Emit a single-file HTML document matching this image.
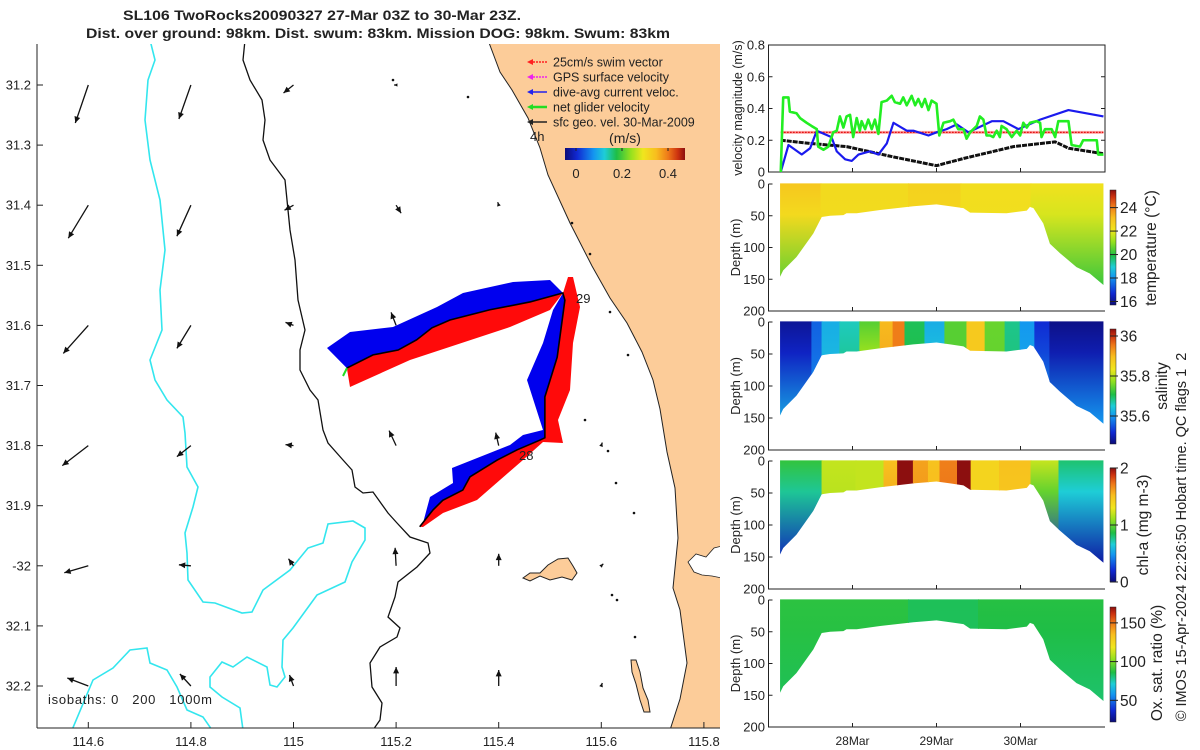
<!DOCTYPE html>
<html><head><meta charset="utf-8"><title>SL106 glider plot</title>
<style>
html,body{margin:0;padding:0;background:#fff;}
svg{display:block;font-family:"Liberation Sans","DejaVu Sans",sans-serif;}
text{fill:#222;}
</style></head>
<body>
<svg id="root" width="1200" height="750" viewBox="0 0 1200 750" xmlns="http://www.w3.org/2000/svg">
<defs>
  <clipPath id="mapclip"><rect x="37" y="44" width="683" height="684"/></clipPath>
  <linearGradient id="legcb" x1="0" x2="1" y1="0" y2="0"></linearGradient>
  <linearGradient id="vcb" x1="0" x2="0" y1="1" y2="0"></linearGradient>
</defs>
<text x="123" y="20" font-size="13.5" font-weight="bold" textLength="398" lengthAdjust="spacingAndGlyphs">SL106 TwoRocks20090327 27-Mar 03Z to 30-Mar 23Z.</text>
<text x="86" y="38" font-size="13.5" font-weight="bold" textLength="584" lengthAdjust="spacingAndGlyphs">Dist. over ground: 98km. Dist. swum: 83km. Mission DOG: 98km. Swum: 83km</text>

<g id="map">
  <g clip-path="url(#mapclip)" id="mapinner"></g>
  <g id="mapaxes"></g>
</g>
<g id="right"></g>
</svg>
<script>
const NS='http://www.w3.org/2000/svg';
const root=document.getElementById('root');
function mk(tag,attrs,parent,txt){const e=document.createElementNS(NS,tag);for(const k in attrs)e.setAttribute(k,attrs[k]);if(txt!==undefined)e.textContent=txt;(parent||root).appendChild(e);return e;}

/* ---------- map data ---------- */
const lonTicks=[114.6,114.8,115,115.2,115.4,115.6,115.8];
const lonTickLabels=['114.6','114.8','115','115.2','115.4','115.6','115.8'];
const latTicks=[31.2,31.3,31.4,31.5,31.6,31.7,31.8,31.9,32.0,32.1,32.2];
const latTickLabels=['31.2','31.3','31.4','31.5','31.6','31.7','31.8','31.9','-32','32.1','32.2'];
const arrowLon=[114.6,114.8,115,115.2, 114.6,114.8,115,115.2,115.4, 114.6,114.8,115,115.2, 114.6,114.8,115,115.2,115.4,115.6, 114.6,114.8,115,115.2,115.4,115.6, 114.6,114.8,115,115.2,115.4,115.6];
const arrowLat=[31.2,31.2,31.2,31.2, 31.4,31.4,31.4,31.4,31.4, 31.6,31.6,31.6,31.6, 31.8,31.8,31.8,31.8,31.8,31.8, 32.0,32.0,32.0,32.0,32.0,32.0, 32.2,32.2,32.2,32.2,32.2,32.2];
const arrowU=[-0.13,-0.12,-0.10,-0.02, -0.20,-0.14,-0.09,0.05,-0.01, -0.25,-0.14,-0.08,-0.05, -0.26,-0.14,-0.08,-0.07,-0.03,0.01, -0.24,-0.12,-0.05,-0.01,0,0.02, -0.21,-0.11,-0.04,0,0,0.01];
const arrowV=[-0.38,-0.34,-0.08,0, -0.33,-0.31,-0.05,-0.08,0.03, -0.28,-0.23,0.03,0.13, -0.20,-0.11,0.01,0.15,0.13,0.03, -0.07,0.01,0.07,0.18,0.12,0.02, 0.08,0.12,0.11,0.19,0.16,0.03];
const trackLon=[115.246,115.272,115.291,115.330,115.344,115.397,115.436,115.480,115.490,115.490,115.514,115.529,115.525,115.461,115.383,115.305,115.270,115.240,115.204,115.155,115.104];
const trackLat=[31.935,31.907,31.891,31.874,31.852,31.824,31.807,31.791,31.787,31.719,31.653,31.558,31.546,31.561,31.574,31.591,31.604,31.624,31.641,31.649,31.671];

function X(lon){return 88.3+(lon-114.6)*513;}
function Y(lat){return 85+(lat-31.2)*601;}

const mi=document.getElementById('mapinner');
const ma=document.getElementById('mapaxes');
const pts=a=>a.map(p=>p.join(',')).join(' ');
const land=[[488,40],[494,56],[500,72],[512,90],[528,118],[540,148],[548,175],[570,223],[592,266],[610,298],[627,323],[642,352],[653,380],[660,409],[667,452],[675,488],[678,538],[673,588],[680,610],[687,663],[680,699],[670,730],[730,730],[730,40]];
let e=mk('polygon',{points:pts(land),fill:'#fccc99',stroke:'#222','stroke-width':1},mi);

e=mk('polygon',{points:pts([[688,562],[696,554],[706,557],[714,548],[722,546],[722,578],[712,576],[702,575],[694,572]]),fill:'#fff',stroke:'#222','stroke-width':0.8},mi);

e=mk('polygon',{points:pts([[523,578],[530,573],[540,573],[548,565],[558,559],[568,558],[573,566],[577,573],[572,580],[562,577],[550,580],[540,576],[530,581]]),fill:'#fccc99',stroke:'#222','stroke-width':1},mi);

e=mk('polygon',{points:pts([[631,660],[636,660],[640,672],[643,688],[648,700],[650,712],[644,712],[640,700],[636,684],[632,672]]),fill:'#fccc99',stroke:'#222','stroke-width':1},mi);

const iso200=[[245,40],[243,60],[250,80],[262,100],[265,120],[263,140],[270,160],[285,180],[287,200],[290,230],[295,260],[298,300],[305,330],[300,350],[300,370],[310,390],[318,400],[323,430],[328,443],[343,460],[352,470],[355,487],[363,493],[373,492],[388,513],[397,523],[410,537],[428,543],[430,553],[417,567],[398,582],[395,597],[388,617],[400,628],[397,637],[380,647],[370,663],[372,687],[382,703],[380,720],[373,730]];
e=mk('polyline',{points:pts(iso200),fill:'none',stroke:'#111','stroke-width':1.3},mi);

const iso1000a=[[150,40],[155,60],[148,80],[145,120],[150,160],[160,200],[165,250],[160,290],[162,330],[150,360],[155,380],[167,400],[183,417],[185,433],[187,467],[198,487],[193,507],[185,533],[187,553],[188,580],[203,602],[215,603],[242,613],[252,612],[263,590],[290,570],[308,548],[323,543],[328,524],[353,521],[365,528],[365,540],[352,562],[345,582],[317,595],[293,628],[283,640],[282,667],[285,677],[277,687],[270,685],[267,667],[247,657],[233,667],[222,662],[210,677],[210,687],[222,697],[240,708],[243,730]];
e=mk('polyline',{points:pts(iso1000a),fill:'none',stroke:'#33e6ee','stroke-width':1.6},mi);

const iso1000b=[[72,730],[93,680],[113,668],[130,650],[147,648],[150,663],[167,670],[177,687],[187,710],[203,717],[212,730]];
e=mk('polyline',{points:pts(iso1000b),fill:'none',stroke:'#33e6ee','stroke-width':1.6},mi);

[[393,80],[468,97],[572,223],[590,254],[610,312],[628,355],[585,420],[608,451],[616,483],[634,513],[617,600],[612,595],[635,637]].forEach(p=>{const d=mk('circle',{cx:p[0],cy:p[1],r:1.3,fill:'#111'},mi);});
const arrowScale=100;
for(let i=0;i<arrowLon.length;i++){
  const x0=X(arrowLon[i]),y0=Y(arrowLat[i]);
  const x1=x0+arrowU[i]*arrowScale,y1=y0-arrowV[i]*arrowScale;
  const g=mk('g',{},mi);
  
  
  mk('line',{x1:x0,y1:y0,x2:x1,y2:y1,stroke:'#111','stroke-width':1.3},g);
  const ang=Math.atan2(y1-y0,x1-x0),L=Math.min(7,Math.hypot(x1-x0,y1-y0)*0.6+2.5);
  const a1=ang+2.7,a2=ang-2.7;
  mk('polygon',{points:`${x1},${y1} ${x1+L*Math.cos(a1)},${y1+L*Math.sin(a1)} ${x1+L*Math.cos(a2)},${y1+L*Math.sin(a2)}`,fill:'#111'},g);
}
const trackXY=trackLon.map((l,i)=>[X(l),Y(trackLat[i])]);
const blueOuter=[[327,348],[350,332],[393,327],[437,307],[463,293],[513,282],[550,280],[557,287],[563,293],[553,310],[543,343],[527,380],[543,430],[523,435],[510,445],[452,468],[453,483],[430,497],[423,523]];
const redOuter=[[350,387],[410,360],[510,327],[550,310],[563,293],[568,277],[573,277],[580,307],[573,343],[570,390],[558,420],[563,443],[543,442],[523,460],[477,500],[443,513],[423,527]];
e=mk('polygon',{points:pts(blueOuter.concat(trackXY)),fill:'#0000ee'},mi);

e=mk('polygon',{points:pts(redOuter.concat(trackXY)),fill:'#ff0a0a'},mi);

e=mk('polyline',{points:pts(trackXY),fill:'none',stroke:'#000','stroke-width':1.6},mi);

e=mk('line',{x1:347,y1:368,x2:343,y2:376,stroke:'#22dd22','stroke-width':2},mi);

e=mk('text',{x:576,y:303,'font-size':13},mi,'29');
e=mk('text',{x:519,y:460,'font-size':13},mi,'28');
const legItems=[['25cm/s swim vector','#ff2020'],['GPS surface velocity','#ee22ee'],['dive-avg current veloc.','#2222ee'],['net glider velocity','#22dd22'],['sfc geo. vel. 30-Mar-2009','#222']];
legItems.forEach((it,i)=>{const y=62+i*15;const g=mk('g',{},mi);
  
  mk('line',{x1:530,y1:y,x2:547,y2:y,stroke:it[1],'stroke-width':i===3?2.5:1.6,'stroke-dasharray':i<2?'2,1':''},g);
  mk('polygon',{points:`${527},${y} ${533},${y-3} ${533},${y+3}`,fill:it[1]},g);
  mk('text',{x:553,y:y+4.5,'font-size':12.5},g,it[0]);});
e=mk('text',{x:530,y:141,'font-size':13},mi,'4h');
e=mk('text',{x:625,y:143,'font-size':14,'text-anchor':'middle'},mi,'(m/s)');

/* colormap */
const cmapStops=[[0,[12,12,120]],[0.1,[16,40,210]],[0.24,[20,150,240]],[0.33,[30,205,215]],[0.43,[30,190,70]],[0.55,[150,225,30]],[0.65,[240,230,30]],[0.76,[248,190,30]],[0.86,[238,120,25]],[0.94,[205,50,15]],[1,[140,15,15]]];
function cmap(f){f=Math.max(0,Math.min(1,f));for(let i=1;i<cmapStops.length;i++){if(f<=cmapStops[i][0]){const a=cmapStops[i-1],b=cmapStops[i],t=(f-a[0])/(b[0]-a[0]);const c=a[1].map((v,k)=>Math.round(v+(b[1][k]-v)*t));return `rgb(${c.join(',')})`;}}return 'rgb(140,15,15)';}
['legcb','vcb'].forEach(id=>{const g=document.getElementById(id);cmapStops.forEach(s=>mk('stop',{offset:s[0],'stop-color':cmap(s[0])},g));});
e=mk('rect',{x:565,y:148,width:120,height:12,fill:'url(#legcb)'},mi);
const legCbTicks=[0,0.2,0.4],legCbLabels=['0','0.2','0.4'];
legCbTicks.forEach((v,i)=>{const x=576+v/0.2*46;mk('line',{x1:x,y1:148,x2:x,y2:151,stroke:'#222'},mi);
  const t=mk('text',{x:x,y:178,'font-size':13,'text-anchor':'middle'},mi,legCbLabels[i]);});
e=mk('text',{x:48,y:704,'font-size':13,textLength:164,lengthAdjust:'spacing'},mi,'isobaths: 0   200   1000m');
e.setAttribute('style','white-space:pre');
e=mk('line',{x1:37,y1:44,x2:37,y2:728,stroke:'#222','stroke-width':1},ma);
e=mk('line',{x1:37,y1:728,x2:720,y2:728,stroke:'#222','stroke-width':1},ma);
lonTicks.forEach((l,i)=>{const x=X(l);mk('line',{x1:x,y1:728,x2:x,y2:722,stroke:'#222'},ma);
  const t=mk('text',{x:x,y:746,'font-size':13,'text-anchor':'middle'},ma,lonTickLabels[i]);});
latTicks.forEach((l,i)=>{const y=Y(l);mk('line',{x1:37,y1:y,x2:43,y2:y,stroke:'#222'},ma);
  const t=mk('text',{x:31,y:y+4.5,'font-size':13,'text-anchor':'end'},ma,latTickLabels[i]);});

/* ---------- velocity chart ---------- */
const velTicks=[0,0.2,0.4,0.6,0.8];
const velTickLabels=['0','0.2','0.4','0.6','0.8'];
const greenT=[3.5,4.2,5.7,6.1,8.0,9.0,10.9,12.3,13.8,14.2,15.7,17.1,18.5,19.5,20.4,21.4,22.3,23.3,24.2,25.2,26.1,26.6,27.6,28.5,29.5,30.4,31.4,32.3,33.8,35.2,36.1,37.6,38.5,39.5,40.9,41.9,42.8,43.8,44.7,45.7,46.6,48.0,48.8,50.0,51.9,52.8,54.2,55.7,56.6,57.6,59.5,60.4,61.4,62.3,63.3,64.2,65.2,66.1,66.6,68.0,69.5,70.9,71.9,72.8,73.8,74.7,76.6,77.6,78.0,79.0,80.9,81.9,82.8,85.7,86.6,89.0,89.9,93.8,94.2,95.7];
const greenV=[0,0.47,0.47,0.38,0.37,0.34,0.31,0.29,0.27,0.16,0.14,0.16,0.25,0.26,0.35,0.28,0.35,0.36,0.22,0.34,0.26,0.32,0.27,0.33,0.27,0.33,0.24,0.44,0.45,0.48,0.44,0.43,0.47,0.42,0.48,0.42,0.46,0.41,0.46,0.39,0.45,0.43,0.23,0.31,0.32,0.33,0.27,0.27,0.21,0.25,0.29,0.35,0.33,0.23,0.23,0.22,0.26,0.22,0.29,0.27,0.22,0.26,0.23,0.31,0.28,0.31,0.32,0.31,0.22,0.27,0.27,0.22,0.32,0.32,0.17,0.16,0.20,0.20,0.11,0.11];
const blueT=[3.5,5.7,9.5,11.9,13.8,18.0,19.5,21.9,23.8,25.7,29.0,31.4,33.8,35.7,39.5,41.4,45.7,48.0,50.9,53.8,57.1,63.8,67.1,71.4,77.6,85.7,95.7];
const blueV=[0,0.17,0.11,0.15,0.26,0.22,0.13,0.08,0.07,0.11,0.13,0.11,0.18,0.31,0.26,0.26,0.23,0.25,0.27,0.30,0.25,0.32,0.32,0.27,0.33,0.39,0.35];
const blackT=[3.5,11.9,22.3,35.7,48.0,55.7,70.0,81.9,85.7,95.7];
const blackV=[0.20,0.18,0.16,0.095,0.04,0.085,0.16,0.19,0.15,0.115];
const swimT=[3.5,95.7];
const swimV=[0.25,0.25];
const dateTicks=[24,48,72];
const dateLabels=['28Mar','29Mar','30Mar'];

const R=document.getElementById('right');
const PX0=768.5,PX1=1105;
function TX(h){return PX0+h/24*84;}
function VY(v){return 172-v/0.8*127;}
e=mk('rect',{x:PX0,y:45,width:PX1-PX0,height:127,fill:'none',stroke:'#222'},R);
velTicks.forEach((v,i)=>{const y=VY(v);mk('line',{x1:PX0,y1:y,x2:PX0+4,y2:y,stroke:'#222'},R);mk('line',{x1:PX1,y1:y,x2:PX1-4,y2:y,stroke:'#222'},R);
  const t=mk('text',{x:765,y:y+4.5,'font-size':13,'text-anchor':'end'},R,velTickLabels[i]);});
dateTicks.forEach(h=>{mk('line',{x1:TX(h),y1:172,x2:TX(h),y2:168,stroke:'#222'},R);});
e=mk('text',{transform:'translate(742,108) rotate(-90)','font-size':12.5,'text-anchor':'middle'},R,'velocity magnitude (m/s)');
function series(T,V,col,w,name,dash){const p=T.map((t,i)=>`${TX(t)},${VY(V[i])}`).join(' ');const l=mk('polyline',{points:p,fill:'none',stroke:col,'stroke-width':w,'stroke-linejoin':'round'},R);if(dash)l.setAttribute('stroke-dasharray',dash);}
series(swimT,swimV,'#ffaaaa',3,'swim-speed-band');
series(swimT,swimV,'#e00000',1.2,'swim-speed-line','2,1');
series(blackT,blackV,'#111',3,'sfc-geo-velocity-line','5,1');
series(blueT,blueV,'#1a1aee',2.2,'dive-avg-current-line');
series(greenT,greenV,'#22ee22',2.6,'net-glider-velocity-line');

/* ---------- sections ---------- */
const bottomT=[3.3,4.2,8.0,12.8,15.2,17.6,21.4,22.3,25.2,31.9,41.4,48.0,51.9,55.7,57.6,68.0,73.8,74.7,75.7,78.5,80.4,83.3,88.0,91.8,95.7];
const bottomD=[146,136,115,78,52,50,49,46,46,41,35,32,35,38,45,46,42,36,38,62,94,109,131,141,159];
const depthTicks=[0,50,100,150,200];
const depthTickLabels=['0','50','100','150','200'];
const tempBandT=[3.3,15,40,55,75,95.7];
const tempTop=[22.9,22.4,22.6,22.3,22.2];
const tempBot=[20.5,22.2,22.4,22.1,20.2];
const salBandT=[3.3,12.4,15.3,20.4,26.1,31.9,35.6,39.0,44.7,50.4,56.7,61.9,67.6,71.9,76.1,80.4,95.7];
const salTop=[35.48,35.56,35.62,35.66,35.74,35.9,35.95,35.7,35.62,35.74,35.88,35.75,35.68,35.6,35.52,35.47];
const salBot=[35.62,35.6,35.66,35.72,35.93,35.95,35.95,35.72,35.7,35.74,35.88,35.74,35.7,35.64,35.62,35.6];
const chlBandT=[3.3,15.3,25,33,36.9,41.4,45.7,49,54,57.9,66,75,83,95.7];
const chlTop=[0.9,1.2,1.2,1.5,2.0,1.6,1.5,1.7,2.0,1.4,1.5,1.2,0.8];
const chlBot=[0.15,1.1,1.2,1.8,2.0,1.7,1.6,1.8,2.0,1.4,1.4,0.2,0.1];
const oxBandT=[3.3,40,60,95.7];
const oxTop=[88,84,87];
const oxBot=[84,83,82];

const panels=[
 {y0:184,y1:311,bandT:tempBandT,top:tempTop,bot:tempBot,min:15.7,max:25.5,cbTicks:[16,18,20,22,24],cbLabels:['16','18','20','22','24'],cbY0:190,cbY1:305,label:'temperature (°C)',lx:1156,ly:248,name:'temperature'},
 {y0:322,y1:450,bandT:salBandT,top:salTop,bot:salBot,min:35.46,max:36.035,cbTicks:[35.6,35.8,36],cbLabels:['35.6','35.8','36'],cbY0:329,cbY1:444,label:'salinity',lx:1167,ly:386,name:'salinity'},
 {y0:461,y1:589,bandT:chlBandT,top:chlTop,bot:chlBot,min:0,max:2,cbTicks:[0,1,2],cbLabels:['0','1','2'],cbY0:468,cbY1:582,label:'chl-a (mg m-3)',lx:1148,ly:525,name:'chlorophyll'},
 {y0:600,y1:727,bandT:oxBandT,top:oxTop,bot:oxBot,min:22,max:170.5,cbTicks:[50,100,150],cbLabels:['50','100','150'],cbY0:607,cbY1:722,label:'Ox. sat. ratio (%)',lx:1162,ly:663,name:'oxygen'}
];
const defs=root.querySelector('defs');
panels.forEach((P,pi)=>{
  const DY=d=>P.y0+d/200*(P.y1-P.y0);
  const g=mk('g',{},R);
  const cpId='sec'+pi;const cp=mk('clipPath',{id:cpId},defs);
  const poly=[[TX(bottomT[0]),DY(-1)],[TX(bottomT[bottomT.length-1]),DY(-1)]];
  for(let i=bottomT.length-1;i>=0;i--)poly.push([TX(bottomT[i]),DY(bottomD[i])]);
  mk('polygon',{points:pts(poly)},cp);
  const cg=mk('g',{'clip-path':`url(#${cpId})`},g);
  for(let i=0;i<P.top.length;i++){
    const gid=`g${pi}_${i}`;const lg=mk('linearGradient',{id:gid,gradientUnits:'userSpaceOnUse',x1:0,x2:0,y1:DY(0),y2:DY(160)},defs);
    mk('stop',{offset:0,'stop-color':cmap((P.top[i]-P.min)/(P.max-P.min))},lg);
    mk('stop',{offset:0.3,'stop-color':cmap((P.top[i]*0.8+P.bot[i]*0.2-P.min)/(P.max-P.min))},lg);
    mk('stop',{offset:1,'stop-color':cmap((P.bot[i]-P.min)/(P.max-P.min))},lg);
    const x0=TX(P.bandT[i]),x1=TX(P.bandT[i+1]);
    const r=mk('rect',{x:x0-0.5,y:DY(-2),width:x1-x0+1,height:DY(165)-DY(-2),fill:`url(#${gid})`},cg);
    
  }
  const ax=mk('polyline',{points:`${PX0},${P.y0} ${PX0},${P.y1} ${PX1},${P.y1}`,fill:'none',stroke:'#222'},g);
  
  depthTicks.forEach((d,i)=>{const y=DY(d);mk('line',{x1:PX0,y1:y,x2:PX0+4,y2:y,stroke:'#222'},g);
    const t=mk('text',{x:765,y:y+4.5,'font-size':13,'text-anchor':'end'},g,depthTickLabels[i]);});
  dateTicks.forEach(h=>{mk('line',{x1:TX(h),y1:P.y1,x2:TX(h),y2:P.y1-4,stroke:'#222'},g);});
  const yl=mk('text',{transform:`translate(740,${(P.y0+P.y1)/2}) rotate(-90)`,'font-size':13,'text-anchor':'middle'},g,'Depth (m)');
  
  const cb=mk('rect',{x:1110,y:P.cbY0,width:6,height:P.cbY1-P.cbY0,fill:'url(#vcb)',stroke:'#222','stroke-width':0.5},g);
  
  P.cbTicks.forEach((v,i)=>{const y=P.cbY1-(v-P.min)/(P.max-P.min)*(P.cbY1-P.cbY0);mk('line',{x1:1110,y1:y,x2:1118,y2:y,stroke:'#222'},g);
    const t=mk('text',{x:1120,y:y+5.5,'font-size':15.5},g,P.cbLabels[i]);});
  const cl=mk('text',{transform:`translate(${P.lx},${P.ly}) rotate(-90)`,'font-size':15.5,'text-anchor':'middle'},g,P.label);
  
});
dateTicks.forEach((h,i)=>{const t=mk('text',{x:TX(h),y:745,'font-size':12,'text-anchor':'middle'},R,dateLabels[i]);});
e=mk('text',{transform:'translate(1186,537) rotate(-90)','font-size':14.5,'text-anchor':'middle'},R,'© IMOS 15-Apr-2024 22:26:50 Hobart time. QC flags 1  2');
e.setAttribute('style','white-space:pre');
</script>
</body></html>
